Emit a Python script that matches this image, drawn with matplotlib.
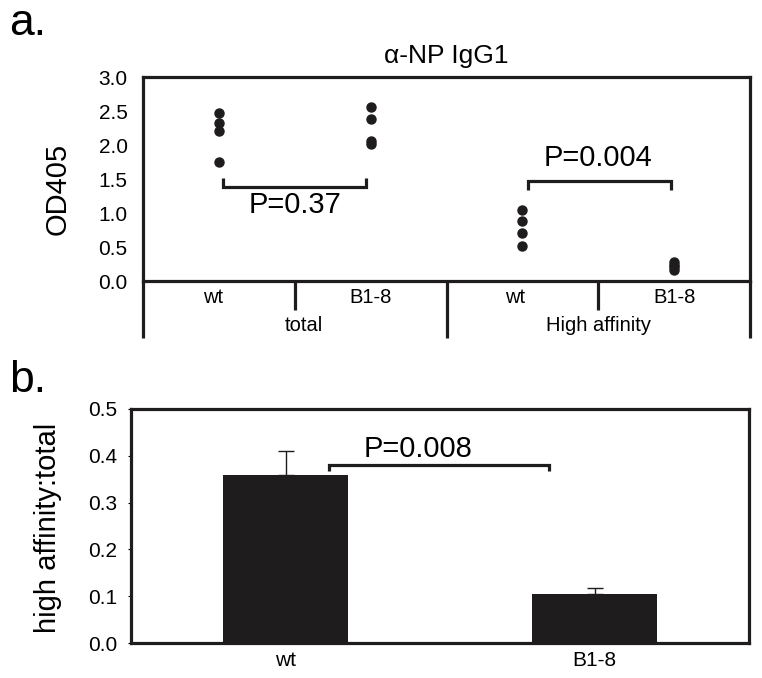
import matplotlib
matplotlib.use("Agg")
import matplotlib.pyplot as plt
import matplotlib.transforms as mtransforms

plt.rcParams['font.family'] = ['Liberation Sans', 'DejaVu Sans']

# ---------------- data ----------------
# panel a: OD405 dot values per group
groups_a = ["wt", "B1-8", "wt", "B1-8"]
supergroups_a = ["total", "High affinity"]
total_wt = [2.47, 2.33, 2.21, 1.75]
total_b18 = [2.56, 2.39, 2.06, 2.02]
high_wt = [1.05, 0.88, 0.70, 0.52]
high_b18 = [0.28, 0.24, 0.20, 0.16]
yticks_a = [0.0, 0.5, 1.0, 1.5, 2.0, 2.5, 3.0]
pvals_a = ["P=0.37", "P=0.004"]

# panel b: ratio bars
cats_b = ["wt", "B1-8"]
ratio_b = [0.36, 0.105]
err_b = [0.05, 0.0125]
yticks_b = [0.0, 0.1, 0.2, 0.3, 0.4, 0.5]
pval_b = "P=0.008"

BLACK = "#1e1c1c"

fig = plt.figure(figsize=(7.62, 6.78), dpi=100)

# ---------------- panel a ----------------
ax = fig.add_axes([0.1877, 0.5855, 0.9843 - 0.1877, 0.8864 - 0.5855])
series = [total_wt, total_b18, high_wt, high_b18]
for i, vals in enumerate(series):
    ax.plot([i + 0.5] * len(vals), vals, 'o', color=BLACK, ms=6.5, zorder=3)
ax.set_xlim(0, 4)
ax.set_ylim(0, 3.0)
ax.set_yticks(yticks_a)
ax.set_yticklabels([f"{v:.1f}" for v in yticks_a], fontsize=15)
ax.tick_params(axis='y', length=0, pad=11)
ax.set_xticks([])
for s in ax.spines.values():
    s.set_linewidth(2.3)
    s.set_color(BLACK)
ax.set_ylabel("OD405", fontsize=21)
ax.yaxis.set_label_coords(-0.117, 0.45)
ax.set_title("\u03b1-NP IgG1", fontsize=19, pad=10)

# brackets
bkw = dict(color=BLACK, lw=2.3, solid_capstyle='butt', solid_joinstyle='miter')
ax.plot([0.525, 0.525, 1.47, 1.47], [1.52, 1.39, 1.39, 1.52], **bkw)
ax.text(1.0, 1.32, pvals_a[0], ha='center', va='top', fontsize=21)
ax.plot([2.535, 2.535, 3.48, 3.48], [1.34, 1.47, 1.47, 1.34], **bkw)
ax.text(3.0, 1.60, pvals_a[1], ha='center', va='bottom', fontsize=21)

# category box below axis
trans = mtransforms.blended_transform_factory(ax.transData, ax.transAxes)
for xv, depth in [(0, 0.279), (1, 0.142), (2, 0.279), (3, 0.142), (4, 0.279)]:
    ax.plot([xv, xv], [0, -depth], transform=trans, color=BLACK, lw=2.3,
            clip_on=False, solid_capstyle='butt')
label_x = [0.46, 1.5, 2.45, 3.5]
for xv, lab in zip(label_x, groups_a):
    ax.text(xv, -0.083, lab, transform=trans, ha='center', va='center', fontsize=14.5)
ax.text(1.06, -0.22, supergroups_a[0], transform=trans, ha='center', va='center', fontsize=14.5)
ax.text(3.0, -0.22, supergroups_a[1], transform=trans, ha='center', va='center', fontsize=14.5)

fig.text(0.012, 0.948, "a.", fontsize=32, ha='left', va='baseline')

# ---------------- panel b ----------------
bx = fig.add_axes([0.1719, 0.0516, 0.983 - 0.1719, 0.3968 - 0.0516])
xpos = [0.5, 1.5]
bx.bar(xpos, ratio_b, width=0.405, color=BLACK, zorder=2)
bx.errorbar(xpos, ratio_b, yerr=[[0, 0], err_b], fmt='none', ecolor=BLACK,
            elinewidth=1.0, capsize=5.5, capthick=1.0, zorder=3)
bx.set_xlim(0, 2)
bx.set_ylim(0, 0.5)
bx.set_yticks(yticks_b)
bx.set_yticklabels([f"{v:.1f}" for v in yticks_b], fontsize=15)
bx.tick_params(axis='y', length=2, width=0.8, pad=8)
bx.set_xticks(xpos)
bx.set_xticklabels(cats_b, fontsize=15)
bx.tick_params(axis='x', length=0, pad=6)
for s in bx.spines.values():
    s.set_linewidth(2.3)
    s.set_color(BLACK)
bx.set_ylabel("high affinity:total", fontsize=21)
bx.yaxis.set_label_coords(-0.112, 0.49)
bx.plot([0.641, 0.641, 1.353, 1.353], [0.368, 0.381, 0.381, 0.368], **bkw)
bx.text(0.929, 0.397, pval_b, ha='center', va='baseline', fontsize=21)

fig.text(0.012, 0.422, "b.", fontsize=32, ha='left', va='baseline')

fig.savefig("out.png", dpi=100)
